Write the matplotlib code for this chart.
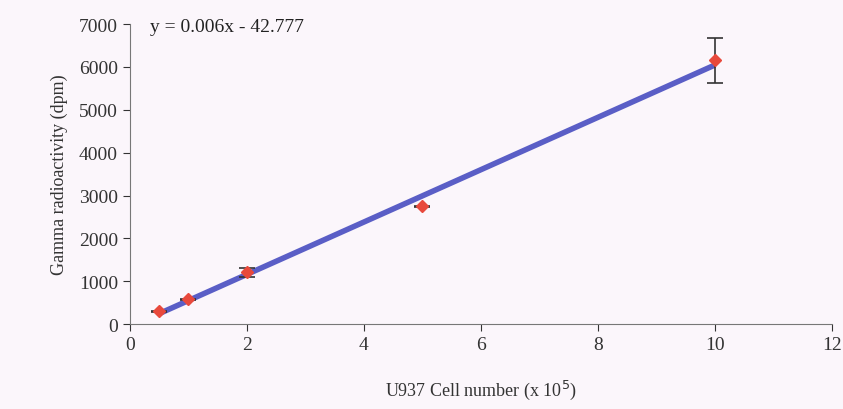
import matplotlib
matplotlib.use("Agg")
import matplotlib.pyplot as plt
import numpy as np

cells = [0.5, 1, 2, 5, 10]
dpm = [300, 580, 1210, 2750, 6150]
err = [15, 15, 110, 15, 530]
x_ticks = [0, 2, 4, 6, 8, 10, 12]
y_ticks = [0, 1000, 2000, 3000, 4000, 5000, 6000, 7000]
equation = "y = 0.006x - 42.777"

plt.rcParams['font.family'] = ['Liberation Serif', 'DejaVu Serif']

fig = plt.figure(figsize=(8.43, 4.10), dpi=100, facecolor='#fbf6fb')
ax = fig.add_axes([0.154, 0.207, 0.833, 0.732])
ax.set_facecolor('none')

# trend line
slope, icpt = np.polyfit(cells, dpm, 1)
xs = np.array([cells[0], cells[-1]])
ax.plot(xs, slope * xs + icpt, color='#5a5ec6', lw=4, zorder=2, solid_capstyle='butt')

ax.errorbar(cells, dpm, yerr=err, fmt='D', color='#e8493c', ms=6,
            ecolor='#333333', elinewidth=1.2, capsize=6, capthick=1.2, zorder=3)

ax.set_xlim(0, 12)
ax.set_ylim(0, 7000)
ax.set_xticks(x_ticks)
ax.set_yticks(y_ticks)
ax.tick_params(labelsize=14, colors='#333333', length=5, width=0.8)
for s in ['top', 'right']:
    ax.spines[s].set_visible(False)
for s in ['left', 'bottom']:
    ax.spines[s].set_color('#777777')
    ax.spines[s].set_linewidth(0.8)

ax.set_ylabel('Gamma radioactivity (dpm)', fontsize=13, color='#333333', labelpad=8)
ax.set_xlabel('U937 Cell number (x 10$^5$)', fontsize=13, color='#333333', labelpad=18)
ax.text(0.35, 6950, equation, fontsize=14, color='#222222', va='center')

fig.savefig('out.png', dpi=100, facecolor=fig.get_facecolor())
